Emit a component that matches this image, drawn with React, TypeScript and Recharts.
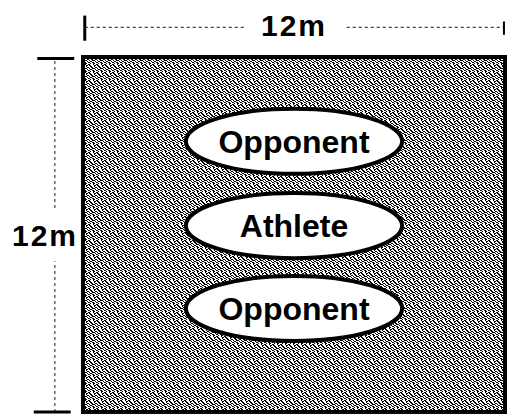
import React from "react";
import {
  ScatterChart,
  Scatter,
  XAxis,
  YAxis,
  ReferenceArea,
  ReferenceLine,
  ReferenceDot,
} from "recharts";

// field is 12m x 12m
const fieldRange = [0, 12];
const dimensionLabels = ["12m", "12m"];

// people standing in the field (metres from bottom-left corner)
const playerNames = ["Opponent", "Athlete", "Opponent"];
const playerX = [6, 6, 6];
const playerY = [9.15, 6.3, 3.5];

const players = playerNames.map((name, i) => ({
  name,
  x: playerX[i],
  y: playerY[i],
}));

const W = 507;
const H = 414;
const margin = { top: 57, right: 2, bottom: 2, left: 83 };
const pxPerX = (W - margin.left - margin.right) / fieldRange[1];
const pxPerY = (H - margin.top - margin.bottom) / fieldRange[1];

// ellipse size in metres
const ellipseW = 6.15;
const ellipseH = 2.2;

const font = "'Liberation Sans', Arial, sans-serif";

// speckled fill tile, 1 = black pixel
const tile = [
  "11000100",
  "01100011",
  "00110010",
  "10011001",
  "01001110",
  "00110001",
  "11001100",
  "00100110",
];
const tilePath = tile
  .flatMap((row, y) =>
    row.split("").map((c, x) => (c === "1" ? `M${x} ${y}h1v1h-1z` : ""))
  )
  .join(" ");

function PlayerShape(props: any) {
  const { cx, cy, payload } = props;
  return (
    <g>
      <ellipse
        cx={cx}
        cy={cy}
        rx={(ellipseW / 2) * pxPerX}
        ry={(ellipseH / 2) * pxPerY}
        fill="#fff"
        stroke="#000"
        strokeWidth={4}
      />
      <text
        x={cx}
        y={cy + 11.5}
        textAnchor="middle"
        fontFamily={font}
        fontWeight="bold"
        fontSize={32}
        fill="#000"
      >
        {payload.name}
      </text>
    </g>
  );
}

const dimLabel = (text: string) => (props: any) => {
  const { viewBox } = props;
  const cx = viewBox.x + (viewBox.width || 0) / 2;
  const cy = viewBox.y + (viewBox.height || 0) / 2;
  return (
    <text
      x={cx}
      y={cy + 10.5}
      textAnchor="middle"
      fontFamily={font}
      fontWeight="bold"
      fontSize={30}
      letterSpacing={2}
      fill="#000"
    >
      {text}
    </text>
  );
};

const dotted = { stroke: "#444", strokeWidth: 1.2, strokeDasharray: "3 3" };
const tick = { stroke: "#000", strokeWidth: 3 };

export default function App() {
  return (
    <div style={{ position: "absolute", left: 0, top: 0, background: "#fff" }}>
      <ScatterChart width={W} height={H} margin={margin}>
        <defs>
          <pattern id="dither" width="8" height="8" patternUnits="userSpaceOnUse">
            <rect width="8" height="8" fill="#fff" />
            <path d={tilePath} fill="#000" />
          </pattern>
        </defs>
        <XAxis type="number" dataKey="x" domain={fieldRange} hide allowDataOverflow />
        <YAxis type="number" dataKey="y" domain={fieldRange} hide allowDataOverflow />

        <ReferenceArea
          x1={0}
          x2={12}
          y1={0}
          y2={12}
          fill="url(#dither)"
          fillOpacity={1}
          stroke="#000"
          strokeWidth={4}
        />

        {/* top dimension */}
        <ReferenceLine segment={[{ x: 0.05, y: 13 }, { x: 4.6, y: 13 }]} ifOverflow="visible" {...dotted} />
        <ReferenceLine segment={[{ x: 7.5, y: 13 }, { x: 12, y: 13 }]} ifOverflow="visible" {...dotted} />
        <ReferenceLine segment={[{ x: 0.05, y: 12.55 }, { x: 0.05, y: 13.4 }]} ifOverflow="visible" {...tick} />
        <ReferenceLine segment={[{ x: 11.97, y: 12.75 }, { x: 11.97, y: 13.2 }]} ifOverflow="visible" stroke="#000" strokeWidth={2} />
        <ReferenceDot x={6} y={13.07} r={0} ifOverflow="visible" label={dimLabel(dimensionLabels[0])} />

        {/* left dimension */}
        <ReferenceLine segment={[{ x: -0.8, y: 0 }, { x: -0.8, y: 5.1 }]} ifOverflow="visible" {...dotted} />
        <ReferenceLine segment={[{ x: -0.8, y: 6.9 }, { x: -0.8, y: 12 }]} ifOverflow="visible" {...dotted} />
        <ReferenceLine segment={[{ x: -1.3, y: 11.95 }, { x: -0.25, y: 11.95 }]} ifOverflow="visible" {...tick} />
        <ReferenceLine segment={[{ x: -1.4, y: 0 }, { x: -0.35, y: 0 }]} ifOverflow="visible" {...tick} />
        <ReferenceDot x={-1.08} y={5.97} r={0} ifOverflow="visible" label={dimLabel(dimensionLabels[1])} />

        <Scatter data={players} shape={PlayerShape} isAnimationActive={false} />
      </ScatterChart>
    </div>
  );
}
